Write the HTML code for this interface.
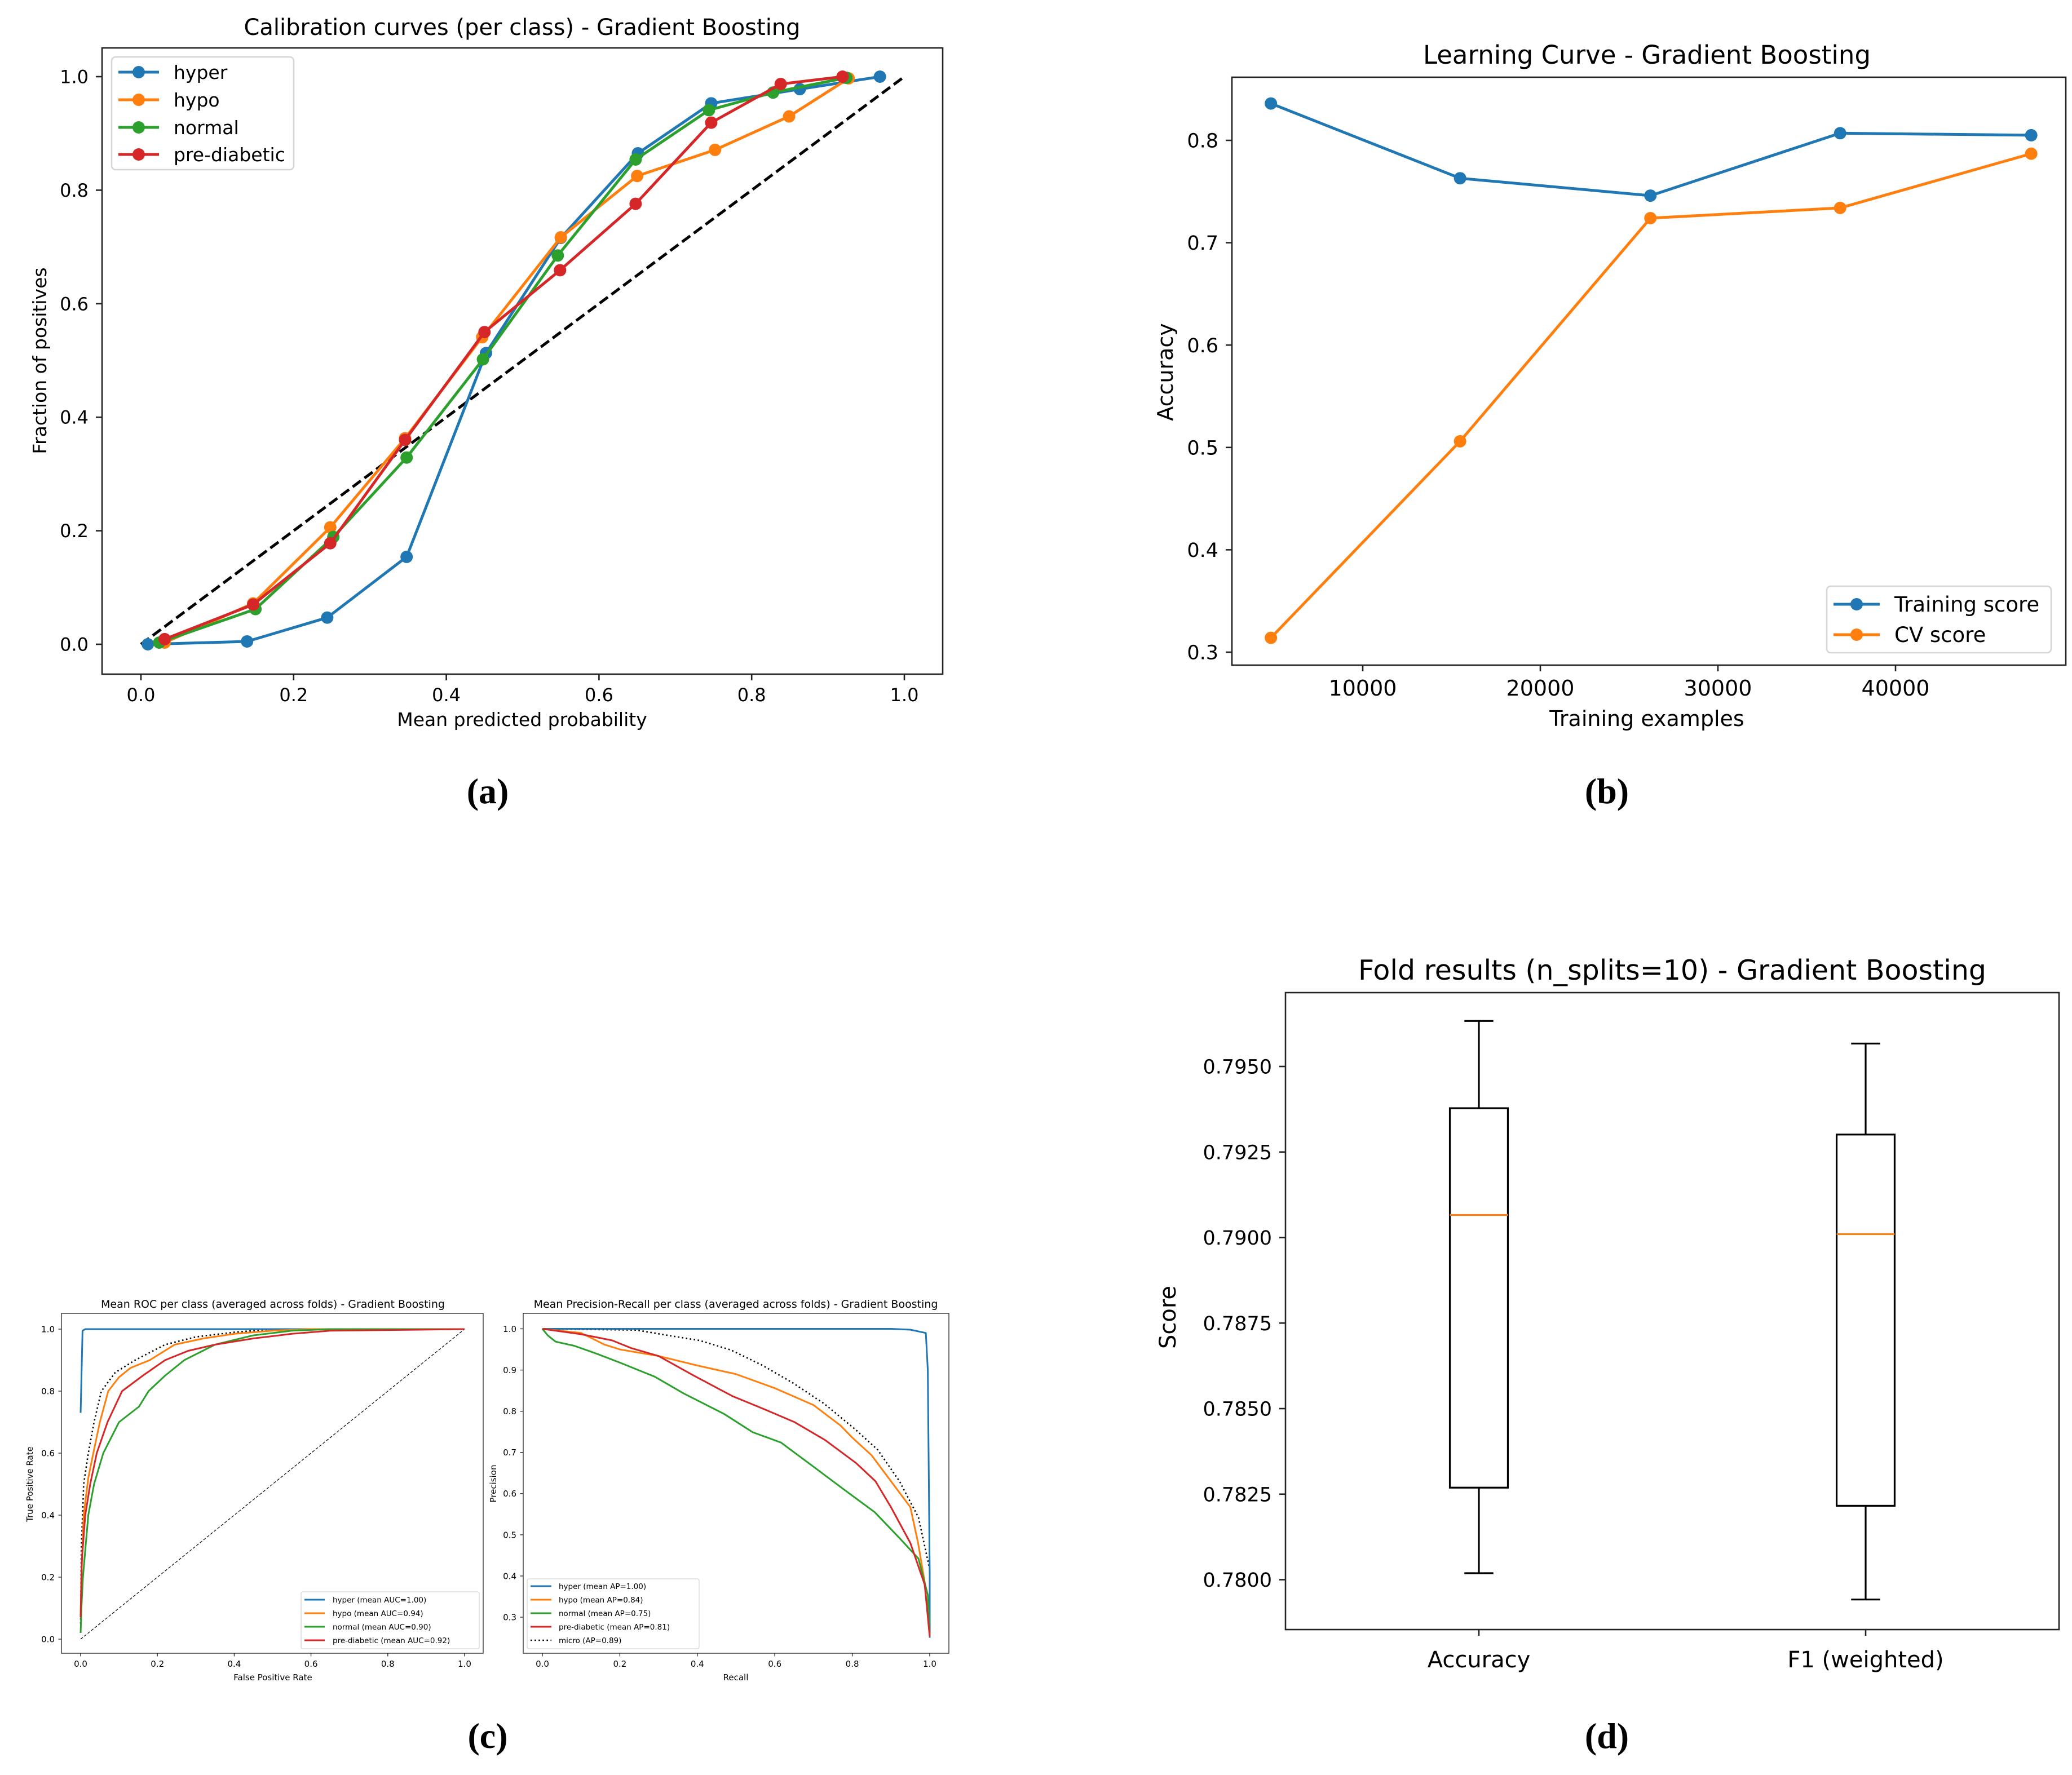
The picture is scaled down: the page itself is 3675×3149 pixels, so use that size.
<!DOCTYPE html>
<html><head><meta charset="utf-8"><title>Gradient Boosting figures</title>
<style>
html,body{margin:0;padding:0;background:#fff;}
svg{display:block;font-family:"DejaVu Sans","Liberation Sans",sans-serif;}
.pl{font-family:"Liberation Serif",serif;font-size:64px;font-weight:bold;}
</style></head>
<body>
<svg id="fig" xmlns="http://www.w3.org/2000/svg" width="3675" height="3149" viewBox="0 0 3675 3149">
<rect x="0" y="0" width="3675" height="3149" fill="#fff"/>
<text x="926" y="62" font-size="40" text-anchor="middle">Calibration curves (per class)  - Gradient Boosting</text>
<text x="926" y="1288" font-size="33" text-anchor="middle">Mean predicted probability</text>
<text x="0" y="0" font-size="33" text-anchor="middle" transform="translate(82,640) rotate(-90)">Fraction of positives</text>
<text x="865" y="1425" class="pl" text-anchor="middle">(a)</text>

<text x="2921" y="113" font-size="45" text-anchor="middle">Learning Curve - Gradient Boosting</text>
<text x="2921" y="1288" font-size="38" text-anchor="middle">Training examples</text>
<text x="0" y="0" font-size="38" text-anchor="middle" transform="translate(2080,660) rotate(-90)">Accuracy</text>
<text x="2850" y="1425" class="pl" text-anchor="middle">(b)</text>

<text x="484" y="2320" font-size="19" text-anchor="middle">Mean ROC per class (averaged across folds) - Gradient Boosting</text>
<text x="484" y="2981" font-size="15" text-anchor="middle">False Positive Rate</text>
<text x="0" y="0" font-size="15" text-anchor="middle" transform="translate(58,2633) rotate(-90)">True Positive Rate</text>
<text x="1305" y="2320" font-size="19" text-anchor="middle">Mean Precision-Recall per class (averaged across folds) - Gradient Boosting</text>
<text x="1305" y="2981" font-size="15" text-anchor="middle">Recall</text>
<text x="0" y="0" font-size="15" text-anchor="middle" transform="translate(880,2632) rotate(-90)">Precision</text>
<text x="865" y="3101" class="pl" text-anchor="middle">(c)</text>

<text x="2966" y="1738" font-size="49" text-anchor="middle">Fold results (n_splits=10) - Gradient Boosting</text>
<text x="0" y="0" font-size="40" text-anchor="middle" transform="translate(2085,2337) rotate(-90)">Score</text>
<text x="2850" y="3101" class="pl" text-anchor="middle">(d)</text>
</svg>
<script>
// ---------- Panel (a) calibration data ----------
const calClasses = ["hyper","hypo","normal","pre-diabetic"];
const calHyperX = [0.009,0.139,0.244,0.348,0.452,0.550,0.651,0.747,0.863,0.968];
const calHyperY = [0.000,0.005,0.047,0.154,0.513,0.716,0.865,0.953,0.978,1.000];
const calHypoX = [0.031,0.147,0.248,0.346,0.447,0.550,0.650,0.752,0.849,0.927];
const calHypoY = [0.003,0.072,0.206,0.363,0.541,0.717,0.825,0.871,0.930,0.997];
const calNormalX = [0.024,0.150,0.252,0.348,0.448,0.546,0.648,0.744,0.828,0.924];
const calNormalY = [0.003,0.062,0.189,0.329,0.502,0.685,0.854,0.941,0.972,0.998];
const calPreX = [0.031,0.147,0.248,0.346,0.450,0.549,0.648,0.747,0.838,0.919];
const calPreY = [0.009,0.070,0.178,0.360,0.550,0.659,0.776,0.919,0.987,1.000];
const calTicks = [0,0.2,0.4,0.6,0.8,1.0];
const calTickLabels = ["0.0","0.2","0.4","0.6","0.8","1.0"];

// ---------- Panel (b) learning curve data ----------
const lcSizes = [4830,15480,26200,36880,47640];
const lcTrain = [0.836,0.763,0.746,0.807,0.805];
const lcCV = [0.314,0.506,0.724,0.734,0.787];
const lcXTicks = [10000,20000,30000,40000];
const lcXTickLabels = ["10000","20000","30000","40000"];
const lcYTicks = [0.3,0.4,0.5,0.6,0.7,0.8];
const lcYTickLabels = ["0.3","0.4","0.5","0.6","0.7","0.8"];

// ---------- Panel (c) ROC data ----------
const rocHyperF = [0,0.005,0.012,1];
const rocHyperT = [0.73,0.995,1,1];
const rocHypoF = [0,0.002,0.008,0.02,0.033,0.05,0.072,0.1,0.13,0.18,0.245,0.32,0.4,0.5,0.6,0.7,1];
const rocHypoT = [0.07,0.2,0.4,0.52,0.6,0.7,0.8,0.845,0.875,0.9,0.95,0.97,0.985,0.995,1,1,1];
const rocNormalF = [0,0.002,0.006,0.02,0.035,0.059,0.1,0.152,0.177,0.22,0.27,0.35,0.45,0.55,0.65,1];
const rocNormalT = [0.02,0.1,0.2,0.4,0.5,0.6,0.7,0.75,0.8,0.85,0.9,0.95,0.98,0.995,1,1];
const rocPreF = [0,0.003,0.012,0.025,0.042,0.07,0.108,0.162,0.22,0.28,0.35,0.45,0.55,0.65,1];
const rocPreT = [0.07,0.25,0.4,0.5,0.6,0.7,0.8,0.85,0.9,0.93,0.95,0.97,0.985,0.995,1];
const rocMicroF = [0,0.002,0.008,0.02,0.035,0.054,0.09,0.142,0.22,0.3,0.4,0.5,1];
const rocMicroT = [0.05,0.3,0.5,0.6,0.7,0.8,0.86,0.9,0.95,0.975,0.99,1,1];
const rocLegend = ["hyper (mean AUC=1.00)","hypo (mean AUC=0.94)","normal (mean AUC=0.90)","pre-diabetic (mean AUC=0.92)"];
const rocTicks = [0,0.2,0.4,0.6,0.8,1.0];
const rocTickLabels = ["0.0","0.2","0.4","0.6","0.8","1.0"];

// ---------- Panel (c) Precision-Recall data ----------
const prHyperR = [0,0.5,0.9,0.95,0.99,0.995,1,1];
const prHyperP = [1,1,1,0.998,0.99,0.9,0.4,0.25];
const prHypoR = [0,0.1,0.16,0.2,0.3,0.4,0.5,0.6,0.7,0.77,0.8,0.85,0.9,0.95,0.97,0.987,1];
const prHypoP = [1,0.99,0.962,0.95,0.934,0.911,0.89,0.856,0.815,0.765,0.736,0.693,0.63,0.567,0.48,0.385,0.253];
const prNormalR = [0,0.014,0.034,0.082,0.139,0.2,0.29,0.365,0.47,0.543,0.616,0.696,0.777,0.858,0.922,0.971,0.995,1];
const prNormalP = [1,0.984,0.969,0.959,0.94,0.918,0.884,0.843,0.793,0.749,0.724,0.668,0.611,0.555,0.492,0.442,0.354,0.253];
const prPreR = [0,0.1,0.18,0.23,0.3,0.39,0.49,0.57,0.65,0.73,0.81,0.86,0.9,0.95,0.987,1];
const prPreP = [1,0.987,0.972,0.953,0.934,0.887,0.837,0.806,0.774,0.73,0.674,0.63,0.567,0.48,0.379,0.253];
const prMicroR = [0,0.244,0.325,0.405,0.486,0.567,0.648,0.728,0.809,0.866,0.922,0.971,1,1];
const prMicroP = [1,0.997,0.984,0.972,0.949,0.912,0.868,0.818,0.755,0.706,0.63,0.542,0.416,0.253];
const prLegend = ["hyper (mean AP=1.00)","hypo (mean AP=0.84)","normal (mean AP=0.75)","pre-diabetic (mean AP=0.81)","micro (AP=0.89)"];
const prXTicks = [0,0.2,0.4,0.6,0.8,1.0];
const prXTickLabels = ["0.0","0.2","0.4","0.6","0.8","1.0"];
const prYTicks = [0.3,0.4,0.5,0.6,0.7,0.8,0.9,1.0];
const prYTickLabels = ["0.3","0.4","0.5","0.6","0.7","0.8","0.9","1.0"];

// ---------- Panel (d) box plot data ----------
const boxCategories = ["Accuracy","F1 (weighted)"];
const boxWhiskerLow = [0.78019,0.77942];
const boxQ1 = [0.78269,0.78216];
const boxMedian = [0.79066,0.79010];
const boxQ3 = [0.79378,0.79301];
const boxWhiskerHigh = [0.79633,0.79567];
const boxYTicks = [0.7800,0.7825,0.7850,0.7875,0.7900,0.7925,0.7950];
const boxYTickLabels = ["0.7800","0.7825","0.7850","0.7875","0.7900","0.7925","0.7950"];

const NS = "http://www.w3.org/2000/svg";
const svg = document.getElementById("fig");
const C = {blue:"#1f77b4",orange:"#ff7f0e",green:"#2ca02c",red:"#d62728"};
function mk(tag, attrs, parent){
  const e = document.createElementNS(NS, tag);
  for (const k in attrs) e.setAttribute(k, attrs[k]);
  (parent || svg).appendChild(e);
  return e;
}
function pathD(xs, ys, sx, sy){
  let d = "";
  for (let i = 0; i < xs.length; i++) d += (i ? "L" : "M") + sx(xs[i]).toFixed(1) + "," + sy(ys[i]).toFixed(1);
  return d;
}
function axes(name, box, sx, sy, xt, xl, yt, yl, o){
  const g = mk("g", {});
  
  
  for (let i = 0; i < xt.length; i++){
    const x = sx(xt[i]);
    const t = mk("line", {x1:x, x2:x, y1:box.b, y2:box.b + o.tl, stroke:"#222", "stroke-width":o.sw}, g);
    
    
    const tx = mk("text", {x:x, y:box.b + o.xo, "font-size":o.xfs || o.fs, "text-anchor":"middle"}, g);
    tx.textContent = xl[i];
    
    
  }
  for (let i = 0; i < yt.length; i++){
    const y = sy(yt[i]);
    const t = mk("line", {x1:box.l - o.tl, x2:box.l, y1:y, y2:y, stroke:"#222", "stroke-width":o.sw}, g);
    
    
    const tx = mk("text", {x:box.l - o.yo, y:y + o.fs * 0.36, "font-size":o.fs, "text-anchor":"end"}, g);
    tx.textContent = yl[i];
    
    
  }
  return g;
}
function frame(name, box, sw){
  const r = mk("rect", {x:box.l, y:box.t, width:box.r - box.l, height:box.b - box.t, fill:"none", stroke:"#222", "stroke-width":sw});
  
  
}
function series(name, xs, ys, sx, sy, color, w, marker, dash){
  const p = mk("path", {d:pathD(xs, ys, sx, sy), fill:"none", stroke:color, "stroke-width":w, "stroke-linejoin":"round"});
  if (dash) p.setAttribute("stroke-dasharray", dash);
  
  
  if (marker){
    for (let i = 0; i < xs.length; i++){
      const c = mk("circle", {cx:sx(xs[i]), cy:sy(ys[i]), r:marker, fill:color});
      
      
    }
  }
}

// ===== Panel (a) =====
const boxA = {l:181, t:85, r:1672, b:1196};
const axA = v => 250 + v * 1354;
const ayA = v => 1143 - v * 1007;
axes("calibration", boxA, axA, ayA, calTicks, calTickLabels, calTicks, calTickLabels, {tl:11, sw:2.6, fs:32, xo:48, yo:24});
series("calibration-perfect", [0,1], [0,1], axA, ayA, "#000", 5, 0, "18,8");
series("calibration-hyper", calHyperX, calHyperY, axA, ayA, C.blue, 5, 11);
series("calibration-hypo", calHypoX, calHypoY, axA, ayA, C.orange, 5, 11);
series("calibration-normal", calNormalX, calNormalY, axA, ayA, C.green, 5, 11);
series("calibration-pre-diabetic", calPreX, calPreY, axA, ayA, C.red, 5, 11);
frame("calibration", boxA, 2.6);
(function(){
  const lg = mk("rect", {x:198, y:101, width:323, height:200, rx:7, fill:"#fff", "fill-opacity":0.85, stroke:"#d6d6d6", "stroke-width":2.6});
  
  
  const cols = [C.blue, C.orange, C.green, C.red];
  const ys = [128,177,226,274];
  for (let i = 0; i < 4; i++){
    const l = mk("line", {x1:210, x2:282, y1:ys[i], y2:ys[i], stroke:cols[i], "stroke-width":5});
    
    
    const c = mk("circle", {cx:246, cy:ys[i], r:11, fill:cols[i]});
    
    
    const t = mk("text", {x:308, y:ys[i] + 12, "font-size":33});
    t.textContent = calClasses[i];
    
    
  }
})();

// ===== Panel (b) =====
const boxB = {l:2185, t:137, r:3664, b:1180};
const axB = v => 2417 + (v - 10000) * 0.0315;
const ayB = v => 249 - (v - 0.8) * 1816;
axes("learning", boxB, axB, ayB, lcXTicks, lcXTickLabels, lcYTicks, lcYTickLabels, {tl:11, sw:2.6, fs:35, xfs:38, xo:54, yo:24});
series("training-score", lcSizes, lcTrain, axB, ayB, C.blue, 5, 11);
series("cv-score", lcSizes, lcCV, axB, ayB, C.orange, 5, 11);
frame("learning", boxB, 2.6);
(function(){
  const lg = mk("rect", {x:3240, y:1040, width:398, height:118, rx:7, fill:"#fff", "fill-opacity":0.85, stroke:"#d6d6d6", "stroke-width":2.6});
  
  
  const cols = [C.blue, C.orange];
  const labs = ["Training score","CV score"];
  const ys = [1072,1126];
  for (let i = 0; i < 2; i++){
    const l = mk("line", {x1:3252, x2:3334, y1:ys[i], y2:ys[i], stroke:cols[i], "stroke-width":5});
    
    
    const c = mk("circle", {cx:3293, cy:ys[i], r:11, fill:cols[i]});
    
    
    const t = mk("text", {x:3360, y:ys[i] + 13, "font-size":37});
    t.textContent = labs[i];
    
    
  }
})();

// ===== Panel (c) ROC =====
const boxC1 = {l:109, t:2330, r:857, b:2933};
const axC1 = v => 143 + v * 681;
const ayC1 = v => 2908 - v * 550;
axes("roc", boxC1, axC1, ayC1, rocTicks, rocTickLabels, rocTicks, rocTickLabels, {tl:5.5, sw:1.3, fs:15, xo:24, yo:12});
series("roc-chance", [0,1], [0,1], axC1, ayC1, "#000", 1.2, 0, "5,3");
series("roc-micro", rocMicroF, rocMicroT, axC1, ayC1, "#000", 2.6, 0, "2.6,4.5");
series("roc-hyper", rocHyperF, rocHyperT, axC1, ayC1, C.blue, 3, 0);
series("roc-hypo", rocHypoF, rocHypoT, axC1, ayC1, C.orange, 3, 0);
series("roc-normal", rocNormalF, rocNormalT, axC1, ayC1, C.green, 3, 0);
series("roc-pre-diabetic", rocPreF, rocPreT, axC1, ayC1, C.red, 3, 0);
frame("roc", boxC1, 1.3);
(function(){
  const lg = mk("rect", {x:534, y:2824, width:316, height:101, rx:3, fill:"#fff", "fill-opacity":0.85, stroke:"#d6d6d6", "stroke-width":1.3});
  
  
  const cols = [C.blue, C.orange, C.green, C.red];
  const ys = [2838,2862,2886,2910];
  for (let i = 0; i < 4; i++){
    const l = mk("line", {x1:540, x2:576, y1:ys[i], y2:ys[i], stroke:cols[i], "stroke-width":3});
    
    
    const t = mk("text", {x:590, y:ys[i] + 5, "font-size":13.5});
    t.textContent = rocLegend[i];
    
    
  }
})();

// ===== Panel (c) Precision-Recall =====
const boxC2 = {l:928, t:2330, r:1683, b:2933};
const axC2 = v => 962 + v * 687;
const ayC2 = v => 2357.5 - (v - 1) * 730.7;
axes("pr", boxC2, axC2, ayC2, prXTicks, prXTickLabels, prYTicks, prYTickLabels, {tl:5.5, sw:1.3, fs:15, xo:24, yo:12});
series("pr-micro", prMicroR, prMicroP, axC2, ayC2, "#000", 2.6, 0, "2.6,4.5");
series("pr-hyper", prHyperR, prHyperP, axC2, ayC2, C.blue, 3, 0);
series("pr-hypo", prHypoR, prHypoP, axC2, ayC2, C.orange, 3, 0);
series("pr-normal", prNormalR, prNormalP, axC2, ayC2, C.green, 3, 0);
series("pr-pre-diabetic", prPreR, prPreP, axC2, ayC2, C.red, 3, 0);
frame("pr", boxC2, 1.3);
(function(){
  const lg = mk("rect", {x:935, y:2801, width:305, height:124, rx:3, fill:"#fff", "fill-opacity":0.85, stroke:"#d6d6d6", "stroke-width":1.3});
  
  
  const cols = [C.blue, C.orange, C.green, C.red, "#000"];
  const ys = [2814,2838,2862,2886,2910];
  for (let i = 0; i < 5; i++){
    const l = mk("line", {x1:941, x2:978, y1:ys[i], y2:ys[i], stroke:cols[i], "stroke-width":i === 4 ? 2.6 : 3});
    if (i === 4) l.setAttribute("stroke-dasharray", "2.6,4.5");
    
    
    const t = mk("text", {x:991, y:ys[i] + 5, "font-size":13.5});
    t.textContent = prLegend[i];
    
    
  }
})();

// ===== Panel (d) box plot =====
const boxD = {l:2280, t:1761, r:3652, b:2891};
const axD = v => 2623 + (v - 1) * 686;
const ayD = v => 1892 - (v - 0.795) * 60700;
axes("fold", boxD, axD, ayD, [1,2], boxCategories, boxYTicks, boxYTickLabels, {tl:11, sw:2.6, fs:35, xfs:40, xo:67, yo:24});
for (let i = 0; i < boxCategories.length; i++){
  const cx = axD(i + 1), hw = 0.075 * 686, cw = 0.0375 * 686;
  const g = mk("g", {});
  
  
  const w1 = mk("line", {x1:cx, x2:cx, y1:ayD(boxWhiskerHigh[i]), y2:ayD(boxQ3[i]), stroke:"#000", "stroke-width":3.2}, g);
  
  
  const w2 = mk("line", {x1:cx, x2:cx, y1:ayD(boxQ1[i]), y2:ayD(boxWhiskerLow[i]), stroke:"#000", "stroke-width":3.2}, g);
  
  
  const c1 = mk("line", {x1:cx - cw, x2:cx + cw, y1:ayD(boxWhiskerHigh[i]), y2:ayD(boxWhiskerHigh[i]), stroke:"#000", "stroke-width":3.2}, g);
  
  
  const c2 = mk("line", {x1:cx - cw, x2:cx + cw, y1:ayD(boxWhiskerLow[i]), y2:ayD(boxWhiskerLow[i]), stroke:"#000", "stroke-width":3.2}, g);
  
  
  const b = mk("rect", {x:cx - hw, y:ayD(boxQ3[i]), width:2 * hw, height:ayD(boxQ1[i]) - ayD(boxQ3[i]), fill:"none", stroke:"#000", "stroke-width":3.2}, g);
  
  
  const m = mk("line", {x1:cx - hw, x2:cx + hw, y1:ayD(boxMedian[i]), y2:ayD(boxMedian[i]), stroke:C.orange, "stroke-width":3.2}, g);
  
  
}
frame("fold", boxD, 2.6);
</script>
</body></html>
